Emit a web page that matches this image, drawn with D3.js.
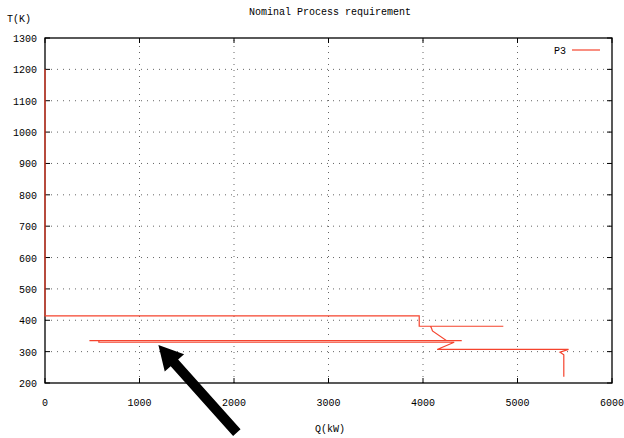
<!DOCTYPE html>
<html>
<head>
<meta charset="UTF-8">
<title>Nominal Process requirement</title>
<style>
  body { margin: 0; background: #fff; }
  svg { display: block; }
  text { font-family: "Liberation Mono", "DejaVu Sans Mono", monospace; font-size: 10px; fill: #000; }
  .grid line { stroke: #666; stroke-width: 1; stroke-dasharray: 1,5; }
</style>
<script src="https://cdn.jsdelivr.net/npm/d3@7"></script>
</head>
<body>
<div id="chart"></div>
<script>
var width = 624, height = 438;
var margin = {left: 45, right: 12, top: 38, bottom: 55};

// P3 curve
var qValues = [0, 0, 3960, 3960, 4850, 4080, 4090, 4100, 4250, 4410, 470, 570, 570, 4330, 4150, 5540, 5450, 5490, 5490];
var tValues = [1200, 414, 414, 381, 381, 381, 375, 366, 335, 335, 335, 335, 330, 330, 307, 307, 298, 290, 220];

var xTicks = [0, 1000, 2000, 3000, 4000, 5000, 6000];
var yTicks = [200, 300, 400, 500, 600, 700, 800, 900, 1000, 1100, 1200, 1300];

// annotation arrow (tail, tip) in data units
var arrowQ = [2030, 1200];
var arrowT = [42, 321];

var x = d3.scaleLinear().domain([0, 6000]).range([margin.left, width - margin.right]);
var y = d3.scaleLinear().domain([200, 1300]).range([height - margin.bottom, margin.top]);

var svg = d3.select("#chart").append("svg")
  .attr("width", width).attr("height", height);

// grid
var grid = svg.append("g").attr("class", "grid");
grid.selectAll(".gx").data(xTicks.slice(1, -1)).enter().append("line")
  .attr("x1", function(d) { return x(d); }).attr("x2", function(d) { return x(d); })
  .attr("y1", y(200)).attr("y2", y(1300));
grid.selectAll(".gy").data(yTicks.slice(1, -1)).enter().append("line")
  .attr("y1", function(d) { return y(d); }).attr("y2", function(d) { return y(d); })
  .attr("x1", x(0)).attr("x2", x(6000));

// inward ticks on all four sides
var tickLen = 5;
var ticks = svg.append("g").attr("stroke", "#000").attr("stroke-width", 1);
xTicks.forEach(function(d) {
  ticks.append("line").attr("x1", x(d)).attr("x2", x(d)).attr("y1", y(200)).attr("y2", y(200) - tickLen);
  ticks.append("line").attr("x1", x(d)).attr("x2", x(d)).attr("y1", y(1300)).attr("y2", y(1300) + tickLen);
});
yTicks.forEach(function(d) {
  ticks.append("line").attr("y1", y(d)).attr("y2", y(d)).attr("x1", x(0)).attr("x2", x(0) + tickLen);
  ticks.append("line").attr("y1", y(d)).attr("y2", y(d)).attr("x1", x(6000)).attr("x2", x(6000) - tickLen);
});

// tick labels
svg.selectAll(".xl").data(xTicks).enter().append("text")
  .attr("x", function(d) { return x(d); }).attr("y", y(200) + 23)
  .attr("text-anchor", "middle").text(function(d) { return d; });
svg.selectAll(".yl").data(yTicks).enter().append("text")
  .attr("x", x(0) - 8).attr("y", function(d) { return y(d) + 4; })
  .attr("text-anchor", "end").text(function(d) { return d; });

// border
svg.append("rect")
  .attr("x", x(0)).attr("y", y(1300))
  .attr("width", x(6000) - x(0)).attr("height", y(200) - y(1300))
  .attr("fill", "none").attr("stroke", "#000").attr("stroke-width", 1.3);

// the curve, drawn over the border like gnuplot does
var line = d3.line()
  .x(function(d, i) { return x(qValues[i]); })
  .y(function(d, i) { return y(tValues[i]); });
svg.append("path").datum(qValues)
  .attr("d", line)
  .attr("fill", "none")
  .attr("stroke", "#f5432d")
  .attr("stroke-width", 1.2);

// legend
svg.append("text").attr("x", 566).attr("y", 54).attr("text-anchor", "end").text("P3");
svg.append("line").attr("x1", 572).attr("x2", 600).attr("y1", 50).attr("y2", 50)
  .attr("stroke", "#f5432d").attr("stroke-width", 1.2);

// titles
svg.append("text").attr("x", 330).attr("y", 15).attr("text-anchor", "middle").text("Nominal Process requirement");
svg.append("text").attr("x", 7).attr("y", 22).text("T(K)");
svg.append("text").attr("x", 330).attr("y", 432).attr("text-anchor", "middle").text("Q(kW)");

// black arrow annotation
var tx = x(arrowQ[0]), ty = y(arrowT[0]), hx = x(arrowQ[1]), hy = y(arrowT[1]);
var len = Math.sqrt((hx - tx) * (hx - tx) + (hy - ty) * (hy - ty));
var ux = (hx - tx) / len, uy = (hy - ty) / len, nx = -uy, ny = ux;
var headLen = 24, headW = 13, shaftW = 5;
var bx = hx - ux * headLen, by = hy - uy * headLen;
var pts = [
  [tx + nx * shaftW, ty + ny * shaftW],
  [bx + nx * shaftW, by + ny * shaftW],
  [bx + nx * headW, by + ny * headW],
  [hx, hy],
  [bx - nx * headW, by - ny * headW],
  [bx - nx * shaftW, by - ny * shaftW],
  [tx - nx * shaftW, ty - ny * shaftW]
];
svg.append("path").attr("d", "M" + pts.join("L") + "Z").attr("fill", "#000");
</script>
</body>
</html>
